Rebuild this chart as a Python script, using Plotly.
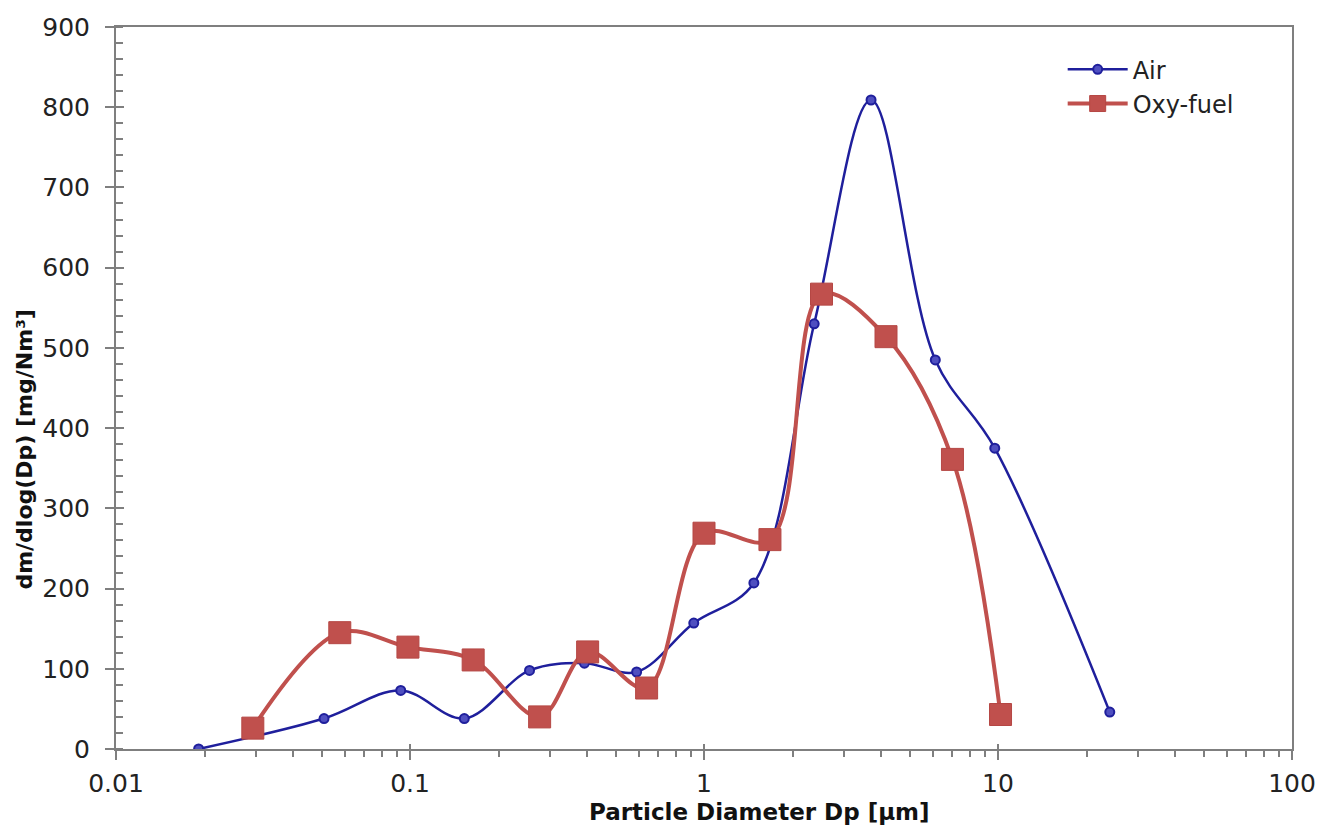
import plotly.graph_objects as go

# Data
air_x = [0.0191, 0.051, 0.093, 0.153, 0.255, 0.392, 0.59, 0.923, 1.478, 2.37, 3.70, 6.12, 9.75, 24.0]
air_y = [0, 38, 73, 38, 98, 107, 96, 157, 207, 530, 809, 485, 375, 46]

oxy_x = [0.0292, 0.0577, 0.0984, 0.164, 0.276, 0.402, 0.638, 1.0, 1.676, 2.51, 4.16, 7.0, 10.2]
oxy_y = [26, 145, 127, 111, 40, 121, 76, 269, 261, 567, 514, 361, 43]

x_tickvals = [0.01, 0.1, 1, 10, 100]
x_ticktext = ["0.01", "0.1", "1", "10", "100"]
x_minor_vals = [m * 10.0 ** e for e in range(-2, 2) for m in range(2, 10)]
y_tickvals = [0, 100, 200, 300, 400, 500, 600, 700, 800, 900]

BLUE = "#1F1F9C"
RED = "#C0504D"
AXIS = "#7F7F7F"
FONT = "DejaVu Sans"

fig = go.Figure()
fig.add_trace(go.Scatter(
    x=air_x, y=air_y, name="Air", mode="lines+markers",
    line=dict(color=BLUE, width=2.5, shape="spline", smoothing=1.0),
    marker=dict(symbol="circle", size=9, color="#4F4FC0", line=dict(color=BLUE, width=2)),
))
fig.add_trace(go.Scatter(
    x=oxy_x, y=oxy_y, name="Oxy-fuel", mode="lines+markers",
    line=dict(color=RED, width=4, shape="spline", smoothing=1.0),
    marker=dict(symbol="square", size=22, color=RED, line=dict(color="#B54744", width=1)),
))

fig.update_layout(
    width=1328, height=827,
    margin=dict(l=116, r=30, t=27, b=78),
    paper_bgcolor="white", plot_bgcolor="white",
    font=dict(family=FONT, size=25, color="#222222"),
    showlegend=True,
    legend=dict(x=0.805, y=0.972, xanchor="left", yanchor="top",
                bgcolor="rgba(0,0,0,0)", font=dict(size=24, family=FONT, color="#222222"),
                itemwidth=60, tracegroupgap=0),
    xaxis=dict(
        type="log", range=[-2, 2], tickvals=x_tickvals, ticktext=x_ticktext,
        showgrid=False, zeroline=False,
        showline=True, linecolor=AXIS, linewidth=2, mirror=True,
        ticks="outside", ticklen=9, tickwidth=2, tickcolor=AXIS,
        ticklabelstandoff=2,
        minor=dict(tickvals=x_minor_vals, ticks="outside", ticklen=6, tickwidth=1.5,
                   tickcolor=AXIS, showgrid=False),
    ),
    yaxis=dict(
        range=[0, 900], tickvals=y_tickvals,
        showgrid=False, zeroline=False,
        showline=True, linecolor=AXIS, linewidth=2, mirror=True,
        ticks="outside", ticklen=9, tickwidth=2, tickcolor=AXIS,
        ticklabelstandoff=10,
        minor=dict(ticks="inside", dtick=20, ticklen=7, tickwidth=1.5, tickcolor=AXIS, showgrid=False),
    ),
    # overlay axes providing the inside half of the crossing major ticks
    xaxis2=dict(type="log", range=[-2, 2], tickvals=x_tickvals, overlaying="x", side="bottom",
                anchor="y", showticklabels=False, ticks="inside", ticklen=5, tickwidth=2,
                tickcolor=AXIS, showgrid=False, zeroline=False, showline=False),
    yaxis2=dict(range=[0, 900], tickvals=y_tickvals, overlaying="y", side="left",
                anchor="x", showticklabels=False, ticks="inside", ticklen=8, tickwidth=2,
                tickcolor=AXIS, showgrid=False, zeroline=False, showline=False),
    annotations=[
        dict(text="<b>Particle Diameter Dp [µm]</b>", xref="paper", yref="paper",
             x=0.547, y=-0.0873, xanchor="center", yanchor="middle", showarrow=False,
             font=dict(family=FONT, size=23, color="#111111")),
        dict(text="<b>dm/dlog(Dp) [mg/Nm³]</b>", xref="paper", yref="paper",
             x=-0.0778, y=0.414, xanchor="center", yanchor="middle", showarrow=False,
             textangle=-90, font=dict(family=FONT, size=22, color="#111111")),
    ],
)

# invisible trace to activate overlay axes
fig.add_trace(go.Scatter(x=[0.01], y=[0], xaxis="x2", yaxis="y2", mode="markers",
                         marker=dict(opacity=0), showlegend=False, hoverinfo="skip"))

fig.write_html("out.html")
